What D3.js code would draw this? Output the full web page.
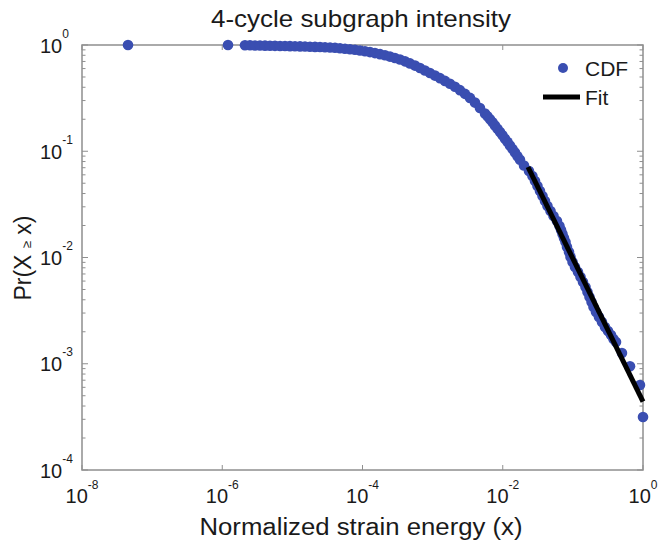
<!DOCTYPE html>
<html>
<head>
<meta charset="utf-8">
<script src="https://cdn.jsdelivr.net/npm/d3@7"></script>
<style>
  body { margin: 0; background: #fff; }
  svg { display: block; font-family: "Liberation Sans", Arial, sans-serif; }
</style>
</head>
<body>
<svg id="chart" width="659" height="543"></svg>
<script>
// tick label exponents
const xTickExps = [-8, -6, -4, -2, 0];
const yTickExps = [-4, -3, -2, -1, 0];

// CDF points, log10 values
const cdfLogX = [
    -7.344, -5.918,
    -5.676, -5.604, -5.533, -5.462, -5.390, -5.319, -5.248, -5.176, -5.105, -5.034,
    -4.963, -4.891, -4.820, -4.749, -4.677, -4.606, -4.535, -4.463, -4.392, -4.321,
    -4.250, -4.178, -4.107, -4.036, -3.964, -3.893, -3.822, -3.750, -3.679, -3.608,
    -3.537, -3.465,
    -3.394, -3.323, -3.251, -3.180, -3.109, -3.038, -2.966, -2.895, -2.824, -2.752,
    -2.681, -2.610, -2.538, -2.467, -2.396, -2.325, -2.253, -2.218, -2.182, -2.146,
    -2.111, -2.075, -2.039, -2.004, -1.968, -1.932, -1.897, -1.861, -1.825, -1.790,
    -1.754, -1.697,
    -1.626, -1.577, -1.540, -1.505, -1.469, -1.433, -1.398, -1.362, -1.319, -1.276,
    -1.227, -1.191, -1.169, -1.148, -1.127, -1.105, -1.084, -1.055, -1.034, -1.005,
    -0.970, -0.927, -0.891, -0.856, -0.820, -0.792, -0.763, -0.734, -0.706, -0.670,
    -0.628, -0.585, -0.542, -0.499, -0.456, -0.421, -0.385,
    -0.300, -0.185, -0.043, 0.000
];
const cdfLogY = [
    0, -0.0001,
    -0.002, -0.003, -0.004, -0.005, -0.006, -0.007, -0.008, -0.009, -0.010, -0.011,
    -0.012, -0.013, -0.014, -0.016, -0.018, -0.019, -0.021, -0.023, -0.026, -0.030,
    -0.035, -0.040, -0.045, -0.052, -0.059, -0.067, -0.076, -0.086, -0.097, -0.109,
    -0.122, -0.137,
    -0.154, -0.173, -0.194, -0.216, -0.240, -0.264, -0.288, -0.312, -0.338, -0.364,
    -0.393, -0.425, -0.460, -0.498, -0.542, -0.593, -0.645, -0.671, -0.699, -0.728,
    -0.758, -0.788, -0.819, -0.850, -0.882, -0.914, -0.946, -0.979, -1.012, -1.046,
    -1.080, -1.134,
    -1.186, -1.233, -1.280, -1.327, -1.374, -1.421, -1.468, -1.515, -1.562, -1.609,
    -1.656, -1.704, -1.741, -1.779, -1.816, -1.854, -1.901, -1.948, -1.995, -2.042,
    -2.089, -2.136, -2.184, -2.231, -2.278, -2.325, -2.372, -2.419, -2.466, -2.513,
    -2.560, -2.607, -2.654, -2.692, -2.729, -2.767, -2.795,
    -2.899, -3.024, -3.200, -3.501
];

// power-law fit end points
const fitX = [0.0229, 1.0];
const fitY = [0.0711, 4.4e-4];

const svg = d3.select("#chart");
const plotL = 82, plotR = 643, plotT = 45, plotB = 470;
const axisColor = "#8f8f8f";
const dotColor = "#3a4eb1";
const textColor = "#1a1a1a";

const x = d3.scaleLog().domain([1e-8, 1]).range([plotL, plotR]);
const y = d3.scaleLog().domain([1e-4, 1]).range([plotB, plotT]);

const points = d3.zip(cdfLogX, cdfLogY).map(d => [10 ** d[0], 10 ** d[1]]);

// box
svg.append("rect")
    .attr("x", plotL).attr("y", plotT)
    .attr("width", plotR - plotL).attr("height", plotB - plotT)
    .attr("fill", "none")
    .attr("stroke", axisColor)
    .attr("stroke-width", 1.5);

// y ticks (inward, both sides)
const yTicks = y.ticks();
const isMajor = v => Math.abs(Math.log10(v) - Math.round(Math.log10(v))) < 1e-9;
const tickG = svg.append("g").attr("stroke", axisColor).attr("stroke-width", 1);
yTicks.forEach(v => {
    const len = isMajor(v) ? 6 : 3.5;
    tickG.append("line").attr("x1", plotL).attr("x2", plotL + len).attr("y1", y(v)).attr("y2", y(v));
    tickG.append("line").attr("x1", plotR).attr("x2", plotR - len).attr("y1", y(v)).attr("y2", y(v));
});
xTickExps.forEach(e => {
    const px = x(10 ** e);
    tickG.append("line").attr("x1", px).attr("x2", px).attr("y1", plotB).attr("y2", plotB - 5);
    tickG.append("line").attr("x1", px).attr("x2", px).attr("y1", plotT).attr("y2", plotT + 5);
});

// tick labels
xTickExps.forEach(e => {
    const t = svg.append("text")
        .attr("x", x(10 ** e))
        .attr("y", 503)
        .attr("text-anchor", "middle")
        .attr("fill", textColor)
        .attr("font-size", 20);
    t.append("tspan").text("10");
    t.append("tspan").attr("dy", -14).attr("font-size", 12).text(e === 0 ? "0" : "-" + Math.abs(e));
});
yTickExps.forEach(e => {
    const t = svg.append("text")
        .attr("x", 40)
        .attr("y", y(10 ** e) + 7.5)
        .attr("fill", textColor)
        .attr("font-size", 20);
    t.append("tspan").text("10");
    t.append("tspan").attr("dy", -15).attr("font-size", 12).text(e === 0 ? "0" : "-" + Math.abs(e));
});

// CDF points
svg.append("g")
    .attr("fill", dotColor)
    .selectAll("circle")
    .data(points)
    .enter().append("circle")
    .attr("cx", d => x(d[0]))
    .attr("cy", d => y(d[1]))
    .attr("r", 5.3);

// fit line
svg.append("path")
    .datum(d3.zip(fitX, fitY))
    .attr("fill", "none")
    .attr("stroke", "#000")
    .attr("stroke-width", 5)
    .attr("d", d3.line().x(d => x(d[0])).y(d => y(d[1])));

// title and axis labels
svg.append("text")
    .attr("x", 361).attr("y", 27)
    .attr("text-anchor", "middle")
    .attr("font-size", 24)
    .attr("textLength", 300)
    .attr("lengthAdjust", "spacingAndGlyphs")
    .attr("fill", textColor)
    .text("4-cycle subgraph intensity");

svg.append("text")
    .attr("x", 361).attr("y", 535)
    .attr("text-anchor", "middle")
    .attr("font-size", 23)
    .attr("textLength", 323)
    .attr("lengthAdjust", "spacingAndGlyphs")
    .attr("fill", textColor)
    .text("Normalized strain energy (x)");

const yl = svg.append("text")
    .attr("transform", "translate(31,258) rotate(-90)")
    .attr("text-anchor", "middle")
    .attr("font-size", 23)
    .attr("fill", textColor);
yl.append("tspan").text("Pr(X ");
yl.append("tspan").attr("font-size", 13).text("≥");
yl.append("tspan").text(" x)");

// legend
const lg = svg.append("g");
lg.append("circle").attr("cx", 563).attr("cy", 68).attr("r", 5).attr("fill", dotColor);
lg.append("text").attr("x", 585).attr("y", 76).attr("font-size", 21).attr("fill", textColor).text("CDF");
lg.append("line").attr("x1", 543).attr("x2", 580).attr("y1", 97).attr("y2", 97)
    .attr("stroke", "#000").attr("stroke-width", 5);
lg.append("text").attr("x", 585).attr("y", 105).attr("font-size", 21).attr("fill", textColor).text("Fit");
</script>
</body>
</html>
